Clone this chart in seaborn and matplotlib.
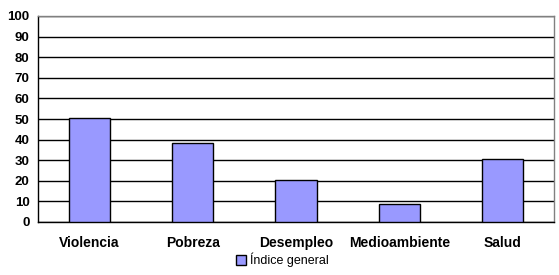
import matplotlib
matplotlib.use("Agg")
import matplotlib.pyplot as plt
import seaborn as sns
import pandas as pd
from matplotlib.patches import Patch
from matplotlib.ticker import FixedLocator

categories = ["Violencia", "Pobreza", "Desempleo", "Medioambiente", "Salud"]
values = [50.5, 38.2, 20.2, 8.6, 30.4]
series_name = "Índice general"
yticks = list(range(0, 101, 10))

df = pd.DataFrame({"cat": categories, "val": values})

sns.set_style("white")
plt.rcParams["font.family"] = ["Liberation Sans", "DejaVu Sans"]
plt.rcParams["text.color"] = "black"
plt.rcParams["xtick.color"] = "black"
plt.rcParams["ytick.color"] = "black"
plt.rcParams["axes.labelcolor"] = "black"

fig = plt.figure(figsize=(5.59, 2.75), dpi=100)
ax = fig.add_axes([38/559, 1 - 222/275, (554 - 38)/559, (222 - 16)/275])

sns.barplot(data=df, x="cat", y="val", color="#9999FF", width=0.4,
            edgecolor="black", linewidth=1.0, saturation=1, ax=ax, zorder=3)

ax.set_ylim(0, 100)
ax.set_xlim(-0.5, len(categories) - 0.5)
ax.set_yticks(yticks)
ax.set_yticklabels([str(t) for t in yticks], fontsize=9.5, fontweight="bold", color="black")
ax.yaxis.grid(True, color="black", linewidth=1.0, zorder=0)
ax.set_axisbelow(True)

ax.set_xticks(range(len(categories)))
ax.set_xticklabels(categories, fontsize=10, fontweight="bold", color="black")
ax.tick_params(axis="x", which="major", length=0, pad=10)
ax.xaxis.set_minor_locator(FixedLocator([i - 0.5 for i in range(len(categories) + 1)]))
ax.tick_params(axis="x", which="minor", length=4, width=1, color="black", direction="out")
ax.tick_params(axis="y", length=4, width=1, color="black", direction="out", pad=2)

ax.set_xlabel("")
ax.set_ylabel("")

for s in ["left", "bottom"]:
    ax.spines[s].set_color("black")
    ax.spines[s].set_linewidth(1.0)
for s in ["top", "right"]:
    ax.spines[s].set_color("#808080")
    ax.spines[s].set_linewidth(1.0)

handle = Patch(facecolor="#9999FF", edgecolor="black", linewidth=1.0)
leg = fig.legend([handle], [series_name], loc="center", bbox_to_anchor=(282/559, 1 - 260/275),
                 frameon=False, fontsize=9, handlelength=0.8, handleheight=0.8,
                 handletextpad=0.3, borderpad=0)
for t in leg.get_texts():
    t.set_color("black")

fig.savefig("out.png", dpi=100)
